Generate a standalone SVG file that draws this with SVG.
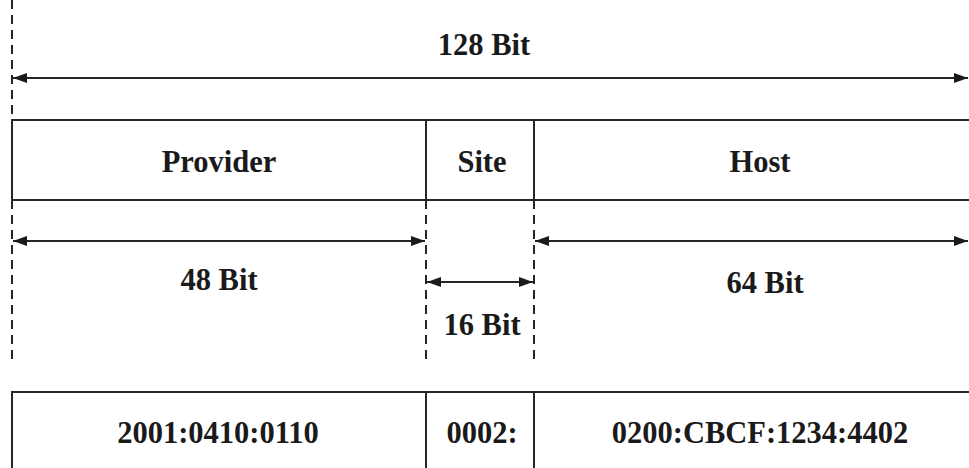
<svg xmlns="http://www.w3.org/2000/svg" width="969" height="468" viewBox="0 0 969 468">
<style>
.t{font-family:"Liberation Serif","Times New Roman",serif;font-weight:bold;font-size:30.5px;fill:#1a1a1a;text-anchor:middle}
.s{stroke:#262626;stroke-width:2;fill:none}
.d{stroke:#262626;stroke-width:2;fill:none;stroke-dasharray:9,6}
.b{stroke:#262626;stroke-width:2;fill:none;marker-start:url(#ah2);marker-end:url(#ah)}
</style>
<defs>
<marker id="ah" viewBox="0 0 14 10" refX="14" refY="5" markerWidth="14" markerHeight="10" markerUnits="userSpaceOnUse" orient="auto"><path d="M0,0 L14,5 L0,10 z" fill="#1a1a1a"/></marker>
<marker id="ah2" viewBox="0 0 14 10" refX="0" refY="5" markerWidth="14" markerHeight="10" markerUnits="userSpaceOnUse" orient="auto"><path d="M14,0 L0,5 L14,10 z" fill="#1a1a1a"/></marker>
</defs>
<g id="connectors">
<line class="d" x1="12" y1="0" x2="12" y2="120"/>
<line class="d" x1="12" y1="200" x2="12" y2="360"/>
<line class="d" x1="426" y1="200" x2="426" y2="362"/>
<line class="d" x1="534" y1="200" x2="534" y2="362"/>
<line class="b" x1="13" y1="78" x2="968" y2="78"/>
<line class="b" x1="13" y1="241" x2="425" y2="241"/>
<line class="b" x1="535" y1="241" x2="968" y2="241"/>
<line class="b" x1="427" y1="282" x2="533" y2="282"/>
</g>
<g id="label-128"><text class="t" x="484" y="55">128 Bit</text></g>
<g id="header-row">
<path class="s" d="M969,120 H12 V200 H969 M426,120 V200 M534,120 V200"/>
</g>
<g id="provider"><text class="t" x="219" y="172">Provider</text></g>
<g id="site"><text class="t" x="482" y="172">Site</text></g>
<g id="host"><text class="t" x="760" y="172">Host</text></g>
<g id="label-48"><text class="t" x="219" y="290">48 Bit</text></g>
<g id="label-16"><text class="t" x="482" y="335">16 Bit</text></g>
<g id="label-64"><text class="t" x="765" y="293">64 Bit</text></g>
<g id="address-row">
<path class="s" d="M969,392 H12 V468 M426,392 V468 M534,392 V468"/>
</g>
<g id="addr-provider"><text class="t" x="218" y="443">2001:0410:0110</text></g>
<g id="addr-site"><text class="t" x="482" y="443">0002:</text></g>
<g id="addr-host"><text class="t" x="760" y="443">0200:CBCF:1234:4402</text></g>
</svg>
